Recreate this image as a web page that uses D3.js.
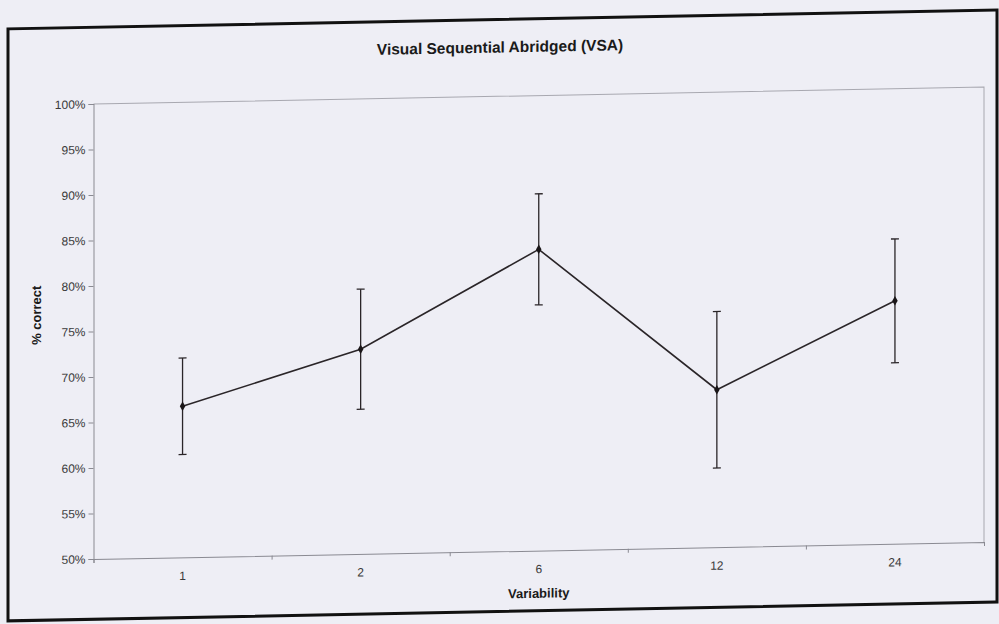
<!DOCTYPE html>
<html>
<head>
<meta charset="utf-8">
<script src="https://cdn.jsdelivr.net/npm/d3@7"></script>
<style>
  html, body { margin: 0; padding: 0; background: #eeeef5; }
  svg { display: block; }
  text { font-family: Arial, "Liberation Sans", Helvetica, sans-serif; }
</style>
</head>
<body>
<svg id="chart" width="999" height="624"></svg>
<script>
// Variability conditions and mean % correct with error-bar half-widths
const categories = ["1", "2", "6", "12", "24"];
const meanCorrect = [66.6, 72.5, 83.1, 67.3, 76.7];
const errorHalf = [5.3, 6.6, 6.1, 8.6, 6.8];
const yTicks = [50, 55, 60, 65, 70, 75, 80, 85, 90, 95, 100];

const svg = d3.select("#chart");

// Page is slightly sheared, as on a scanned sheet
const page = svg.append("g").attr("transform", "matrix(1,-0.019,0,1,0,0)");

// Outer chart frame
page.append("rect")
  .attr("x", 8).attr("y", 29).attr("width", 989).attr("height", 592)
  .attr("fill", "#eeeef5").attr("stroke", "#111").attr("stroke-width", 3);

const plot = { left: 93.5, right: 984, top: 105.8, bottom: 560.8 };

const x = d3.scaleBand().domain(categories).range([plot.left, plot.right]).paddingInner(0).paddingOuter(0);
const xEdge = d3.scaleLinear().domain([0, categories.length]).range([plot.left, plot.right]);
const y = d3.scaleLinear().domain([50, 100]).range([plot.bottom, plot.top]);

// Title
page.append("text")
  .attr("x", 500).attr("y", 62)
  .attr("text-anchor", "middle")
  .attr("font-size", 15.5).attr("font-weight", "bold").attr("fill", "#1a1a1a")
  .text("Visual Sequential Abridged (VSA)");

// Plot area border (top and right)
page.append("path")
  .attr("d", `M${plot.left},${plot.top}H${plot.right}V${plot.bottom}`)
  .attr("fill", "none").attr("stroke", "#a8a8b0").attr("stroke-width", 1);

// Y axis
const yAxis = page.append("g")
  .attr("transform", `translate(${plot.left},0)`)
  .call(d3.axisLeft(y).tickValues(yTicks).tickFormat(d => d + "%").tickSize(5).tickPadding(3));
yAxis.select(".domain").attr("stroke", "#8a8a92");
yAxis.selectAll(".tick line").attr("stroke", "#8a8a92");
yAxis.selectAll(".tick text").attr("font-size", 12).attr("fill", "#3a3a3a")
  .attr("font-family", "Arial, 'Liberation Sans', sans-serif");

// X axis: tick marks at category boundaries, labels at category centres
const xTickAxis = page.append("g")
  .attr("transform", `translate(0,${plot.bottom})`)
  .call(d3.axisBottom(xEdge).tickValues(d3.range(categories.length + 1)).tickFormat("").tickSize(4));
xTickAxis.select(".domain").attr("stroke", "#8a8a92");
xTickAxis.selectAll(".tick line").attr("stroke", "#8a8a92");

const xLabelAxis = page.append("g")
  .attr("transform", `translate(0,${plot.bottom})`)
  .call(d3.axisBottom(x).tickSize(0).tickPadding(14));
xLabelAxis.select(".domain").remove();
xLabelAxis.selectAll(".tick text").attr("font-size", 12).attr("fill", "#3a3a3a")
  .attr("font-family", "Arial, 'Liberation Sans', sans-serif");

// Axis titles
page.append("text")
  .attr("x", (plot.left + plot.right) / 2).attr("y", 608)
  .attr("text-anchor", "middle")
  .attr("font-size", 13).attr("font-weight", "bold").attr("fill", "#1a1a1a")
  .text("Variability");

page.append("text")
  .attr("transform", "translate(41,316) rotate(-90)")
  .attr("text-anchor", "middle")
  .attr("font-size", 13).attr("font-weight", "bold").attr("fill", "#1a1a1a")
  .text("% correct");

const pts = categories.map((c, i) => ({ c, m: meanCorrect[i], e: errorHalf[i] }));
const cx = d => x(d.c) + x.bandwidth() / 2;

// Error bars
const eb = page.append("g").attr("stroke", "#2a2528").attr("stroke-width", 1.3).attr("fill", "none");
eb.selectAll("line.v").data(pts).join("line").attr("class", "v")
  .attr("x1", cx).attr("x2", cx)
  .attr("y1", d => y(d.m + d.e)).attr("y2", d => y(d.m - d.e));
eb.selectAll("line.t").data(pts).join("line").attr("class", "t")
  .attr("x1", d => cx(d) - 4).attr("x2", d => cx(d) + 4)
  .attr("y1", d => y(d.m + d.e)).attr("y2", d => y(d.m + d.e));
eb.selectAll("line.b").data(pts).join("line").attr("class", "b")
  .attr("x1", d => cx(d) - 4).attr("x2", d => cx(d) + 4)
  .attr("y1", d => y(d.m - d.e)).attr("y2", d => y(d.m - d.e));

// Mean line
page.append("path").datum(pts)
  .attr("fill", "none").attr("stroke", "#2a2528").attr("stroke-width", 1.6)
  .attr("d", d3.line().x(cx).y(d => y(d.m)));

// Diamond markers
page.selectAll("path.mk").data(pts).join("path").attr("class", "mk")
  .attr("transform", d => `translate(${cx(d)},${y(d.m)})`)
  .attr("d", d3.symbol(d3.symbolDiamond, 26))
  .attr("fill", "#1a1618");
</script>
</body>
</html>
